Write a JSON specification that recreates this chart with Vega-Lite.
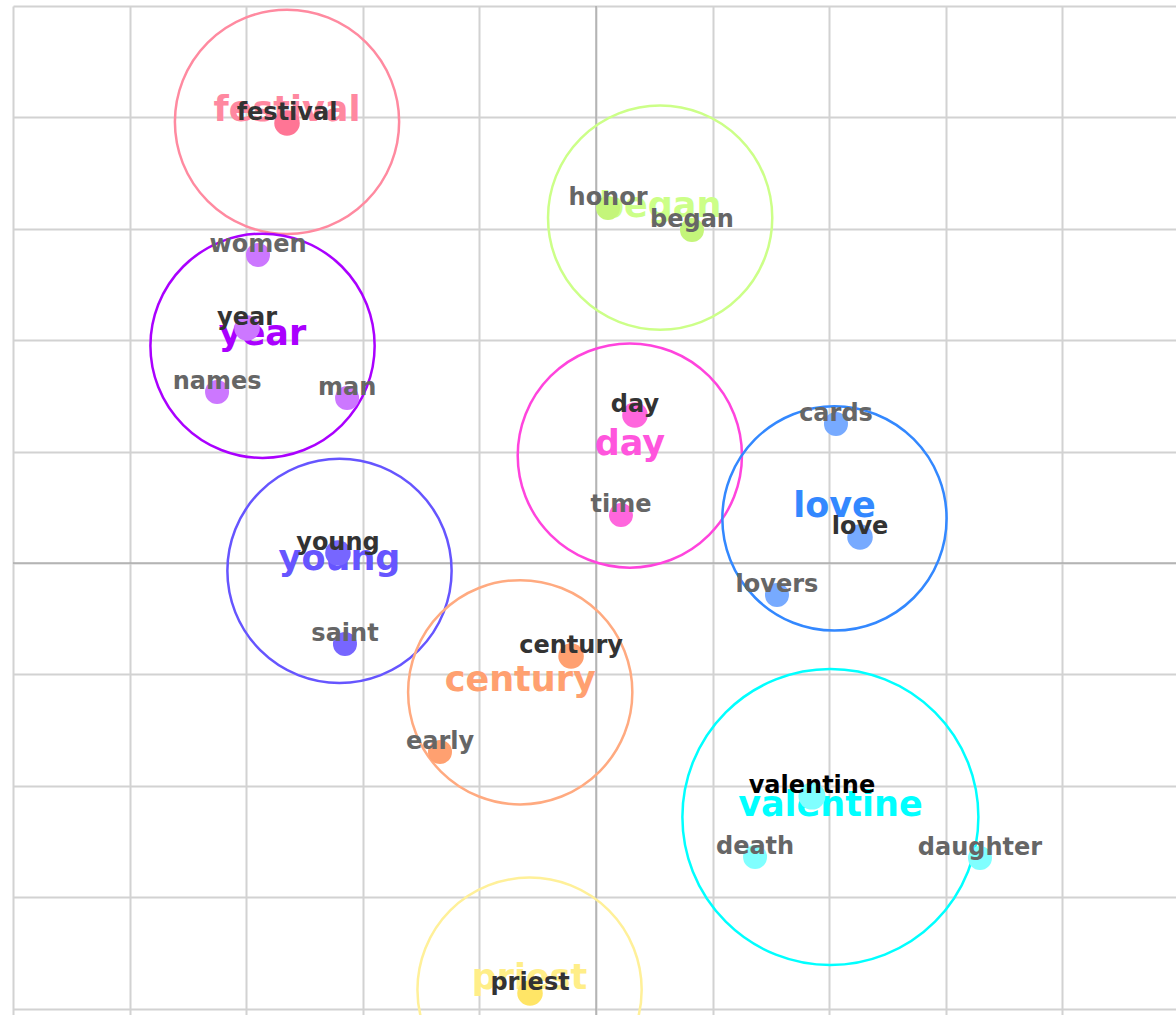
{
  "$schema": "https://vega.github.io/schema/vega-lite/v6.json",
  "width": 1163,
  "height": 1009,
  "padding": {"left": 13, "top": 6, "right": 0, "bottom": 0},
  "autosize": {"type": "none"},
  "background": "white",
  "config": {
    "view": {"stroke": null},
    "axis": {"grid": true, "gridColor": "#d2d2d2", "gridWidth": 2, "labels": false, "ticks": false, "domain": false, "title": null}
  },
  "datasets": {
    "axes": [{"v": 0}],
    "clusters": [
      {"cluster": "festival", "cx": -2.65, "cy": 3.96, "spread": 1.0},
      {"cluster": "began", "cx": 0.55, "cy": 3.10, "spread": 1.0},
      {"cluster": "year", "cx": -2.86, "cy": 1.95, "spread": 1.0},
      {"cluster": "day", "cx": 0.29, "cy": 0.965, "spread": 1.0},
      {"cluster": "love", "cx": 2.045, "cy": 0.40, "spread": 1.0},
      {"cluster": "young", "cx": -2.20, "cy": -0.07, "spread": 1.0},
      {"cluster": "century", "cx": -0.65, "cy": -1.16, "spread": 1.0},
      {"cluster": "valentine", "cx": 2.01, "cy": -2.28, "spread": 1.32},
      {"cluster": "priest", "cx": -0.57, "cy": -3.83, "spread": 1.0}
    ],
    "words": [
      {"word": "festival", "cluster": "festival", "x": -2.65, "y": 3.95, "rank": "rep"},
      {"word": "honor", "cluster": "began", "x": 0.103, "y": 3.187, "rank": "member"},
      {"word": "began", "cluster": "began", "x": 0.823, "y": 2.989, "rank": "member"},
      {"word": "women", "cluster": "year", "x": -2.899, "y": 2.765, "rank": "member"},
      {"word": "year", "cluster": "year", "x": -2.993, "y": 2.11, "rank": "rep"},
      {"word": "names", "cluster": "year", "x": -3.25, "y": 1.535, "rank": "member"},
      {"word": "man", "cluster": "year", "x": -2.135, "y": 1.481, "rank": "member"},
      {"word": "day", "cluster": "day", "x": 0.334, "y": 1.329, "rank": "rep"},
      {"word": "time", "cluster": "day", "x": 0.214, "y": 0.431, "rank": "member"},
      {"word": "cards", "cluster": "love", "x": 2.058, "y": 1.248, "rank": "member"},
      {"word": "love", "cluster": "love", "x": 2.264, "y": 0.233, "rank": "rep"},
      {"word": "lovers", "cluster": "love", "x": 1.552, "y": -0.287, "rank": "member"},
      {"word": "young", "cluster": "young", "x": -2.213, "y": 0.09, "rank": "rep"},
      {"word": "saint", "cluster": "young", "x": -2.153, "y": -0.727, "rank": "member"},
      {"word": "century", "cluster": "century", "x": -0.214, "y": -0.835, "rank": "rep"},
      {"word": "early", "cluster": "century", "x": -1.338, "y": -1.697, "rank": "member"},
      {"word": "valentine", "cluster": "valentine", "x": 1.852, "y": -2.092, "rank": "top"},
      {"word": "death", "cluster": "valentine", "x": 1.364, "y": -2.639, "rank": "member"},
      {"word": "daughter", "cluster": "valentine", "x": 3.293, "y": -2.648, "rank": "member"},
      {"word": "priest", "cluster": "priest", "x": -0.566, "y": -3.86, "rank": "rep"}
    ]
  },
  "resolve": {"scale": {"color": "independent", "size": "independent"}},
  "layer": [
    {
      "data": {"name": "axes"},
      "mark": {"type": "rule", "color": "#999999", "strokeWidth": 1},
      "encoding": {
        "x": {"field": "v", "type": "quantitative", "scale": {"domain": [-5, 4.974], "nice": false, "zero": false}, "axis": {"values": [-5, -4, -3, -2, -1, 0, 1, 2, 3, 4, 5]}}
      }
    },
    {
      "data": {"name": "axes"},
      "mark": {"type": "rule", "color": "#999999", "strokeWidth": 1},
      "encoding": {
        "y": {"field": "v", "type": "quantitative", "scale": {"domain": [-4.057, 5], "nice": false, "zero": false}, "axis": {"values": [-4, -3, -2, -1, 0, 1, 2, 3, 4, 5]}}
      }
    },
    {
      "data": {"name": "clusters"},
      "mark": {"type": "point", "shape": "circle", "filled": false, "strokeWidth": 2.5, "opacity": 1},
      "encoding": {
        "x": {"field": "cx", "type": "quantitative"},
        "y": {"field": "cy", "type": "quantitative"},
        "size": {"field": "spread", "type": "quantitative", "scale": {"type": "pow", "exponent": 2, "domain": [0, 1.32], "range": [0, 87616]}, "legend": null},
        "color": {"field": "cluster", "type": "nominal", "legend": null,
          "scale": {"domain": ["festival", "began", "year", "day", "love", "young", "century", "valentine", "priest"],
                    "range": ["#ff8aa0", "#ccff88", "#aa00ff", "#ff44dd", "#3388ff", "#6655ff", "#ffaa80", "#00ffff", "#fff099"]}}
      }
    },
    {
      "data": {"name": "clusters"},
      "mark": {"type": "text", "font": "DejaVu Sans", "fontWeight": "bold", "fontSize": 35, "align": "center", "baseline": "alphabetic", "dy": -1},
      "encoding": {
        "x": {"field": "cx", "type": "quantitative"},
        "y": {"field": "cy", "type": "quantitative"},
        "text": {"field": "cluster"},
        "color": {"field": "cluster", "type": "nominal", "legend": null,
          "scale": {"domain": ["festival", "began", "year", "day", "love", "young", "century", "valentine", "priest"],
                    "range": ["#ff88a0", "#ccff88", "#aa00ff", "#ff55dd", "#3388ff", "#6655ff", "#ffa070", "#00ffff", "#ffee88"]}}
      }
    },
    {
      "data": {"name": "words"},
      "mark": {"type": "point", "shape": "circle", "filled": true, "opacity": 1, "strokeWidth": 0},
      "encoding": {
        "x": {"field": "x", "type": "quantitative"},
        "y": {"field": "y", "type": "quantitative"},
        "size": {"field": "rank", "type": "ordinal", "scale": {"domain": ["member", "rep", "top"], "range": [576, 729, 2116]}, "legend": null},
        "color": {"field": "cluster", "type": "nominal", "legend": null,
          "scale": {"domain": ["festival", "began", "year", "day", "love", "young", "century", "valentine", "priest"],
                    "range": ["#ff7595", "#c4f57a", "#cc77ff", "#ff66dd", "#77aaff", "#7766ff", "#ffa070", "#80ffff", "#ffe566"]}}
      }
    },
    {
      "data": {"name": "words"},
      "mark": {"type": "text", "font": "DejaVu Sans", "fontWeight": "bold", "fontSize": 24, "align": "center", "baseline": "alphabetic", "dy": -3},
      "encoding": {
        "x": {"field": "x", "type": "quantitative"},
        "y": {"field": "y", "type": "quantitative"},
        "text": {"field": "word"},
        "color": {"field": "rank", "type": "nominal", "legend": null,
          "scale": {"domain": ["member", "rep", "top"], "range": ["#666666", "#333333", "#000000"]}}
      }
    }
  ]
}
